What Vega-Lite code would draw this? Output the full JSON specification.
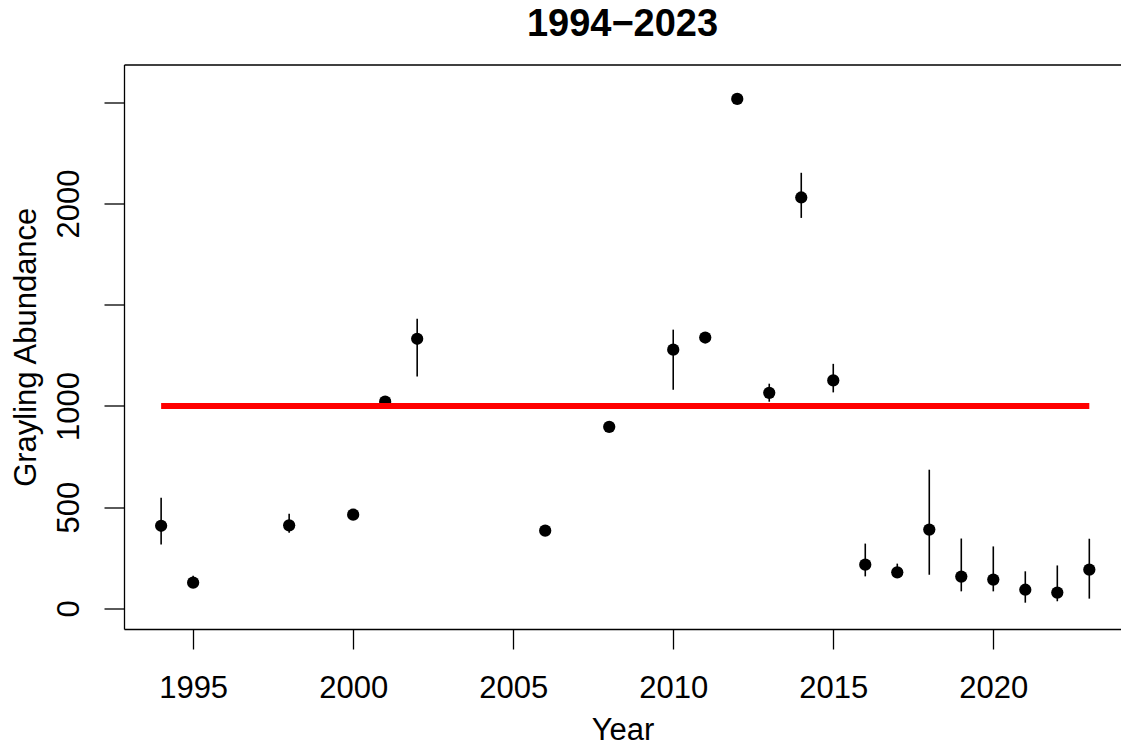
{
  "$schema": "https://vega.github.io/schema/vega-lite/v6.json",
  "autosize": "none",
  "padding": {"left": 124, "top": 64.5, "right": 0, "bottom": 119},
  "width": 997,
  "height": 564.5,
  "background": "white",
  "title": {
    "text": "1994−2023",
    "font": "Liberation Sans",
    "fontSize": 38,
    "fontWeight": "bold",
    "color": "black",
    "anchor": "middle",
    "baseline": "alphabetic",
    "offset": 25,
    "dy": 34
  },
  "config": {
    "view": {"stroke": null},
    "axis": {
      "domain": true,
      "domainColor": "black",
      "domainWidth": 1.3,
      "grid": false,
      "ticks": true,
      "tickColor": "black",
      "tickWidth": 1.3,
      "tickSize": 20,
      "labelFont": "Liberation Sans",
      "labelFontSize": 31,
      "labelColor": "black",
      "titleFont": "Liberation Sans",
      "titleFontSize": 31,
      "titleFontWeight": "normal",
      "titleColor": "black"
    }
  },
  "resolve": {"axis": {"x": "independent"}},
  "datasets": {
    "abundance": [
      {"Year": 1994, "Abundance": 408, "Lower": 315, "Upper": 546},
      {"Year": 1995, "Abundance": 127, "Lower": 112, "Upper": 161},
      {"Year": 1998, "Abundance": 410, "Lower": 374, "Upper": 468},
      {"Year": 2000, "Abundance": 463, "Lower": 463, "Upper": 463},
      {"Year": 2001, "Abundance": 1021, "Lower": 1021, "Upper": 1021},
      {"Year": 2002, "Abundance": 1332, "Lower": 1145, "Upper": 1431},
      {"Year": 2006, "Abundance": 384, "Lower": 384, "Upper": 384},
      {"Year": 2008, "Abundance": 897, "Lower": 897, "Upper": 897},
      {"Year": 2010, "Abundance": 1278, "Lower": 1080, "Upper": 1377},
      {"Year": 2011, "Abundance": 1338, "Lower": 1338, "Upper": 1338},
      {"Year": 2012, "Abundance": 2517, "Lower": 2517, "Upper": 2517},
      {"Year": 2013, "Abundance": 1065, "Lower": 1021, "Upper": 1110},
      {"Year": 2014, "Abundance": 2030, "Lower": 1929, "Upper": 2152},
      {"Year": 2015, "Abundance": 1126, "Lower": 1067, "Upper": 1208},
      {"Year": 2016, "Abundance": 216, "Lower": 158, "Upper": 320},
      {"Year": 2017, "Abundance": 178, "Lower": 152, "Upper": 221},
      {"Year": 2018, "Abundance": 389, "Lower": 166, "Upper": 685},
      {"Year": 2019, "Abundance": 157, "Lower": 84, "Upper": 345},
      {"Year": 2020, "Abundance": 142, "Lower": 84, "Upper": 306},
      {"Year": 2021, "Abundance": 92, "Lower": 28, "Upper": 183},
      {"Year": 2022, "Abundance": 78, "Lower": 35, "Upper": 212},
      {"Year": 2023, "Abundance": 191, "Lower": 48, "Upper": 344}
    ],
    "target": [
      {"Start": 1994, "End": 2023, "Level": 1000}
    ]
  },
  "layer": [
    {
      "data": {"name": "abundance"},
      "mark": {"type": "rule", "color": "black", "strokeWidth": 1.6},
      "encoding": {
        "x": {
          "field": "Year", "type": "quantitative",
          "scale": {"domain": [1992.84, 2023.99], "nice": false, "zero": false},
          "axis": {"orient": "bottom", "values": [1995, 2000, 2005, 2010, 2015, 2020], "format": "d", "title": "Year", "labelPadding": 24, "titlePadding": 12}
        },
        "y": {
          "field": "Lower", "type": "quantitative",
          "scale": {"domain": [-102, 2687], "nice": false, "zero": false},
          "axis": {"values": [0, 500, 1000, 1500, 2000, 2500], "labelExpr": "datum.value == 1500 || datum.value == 2500 ? '' : datum.label", "format": "d", "labelAngle": -90, "title": "Grayling Abundance", "labelPadding": 19, "titlePadding": 11}
        },
        "y2": {"field": "Upper"}
      }
    },
    {
      "data": {"name": "abundance"},
      "mark": {"type": "point", "filled": true, "shape": "circle", "size": 150, "color": "black", "opacity": 1},
      "encoding": {
        "x": {"field": "Year", "type": "quantitative", "axis": null},
        "y": {"field": "Abundance", "type": "quantitative"}
      }
    },
    {
      "data": {"name": "target"},
      "mark": {"type": "rule", "color": "#ff0000", "strokeWidth": 6, "strokeCap": "butt"},
      "encoding": {
        "x": {"field": "Start", "type": "quantitative", "axis": {"orient": "top", "ticks": false, "labels": false, "title": null, "domain": true}},
        "x2": {"field": "End"},
        "y": {"field": "Level", "type": "quantitative"}
      }
    }
  ]
}
